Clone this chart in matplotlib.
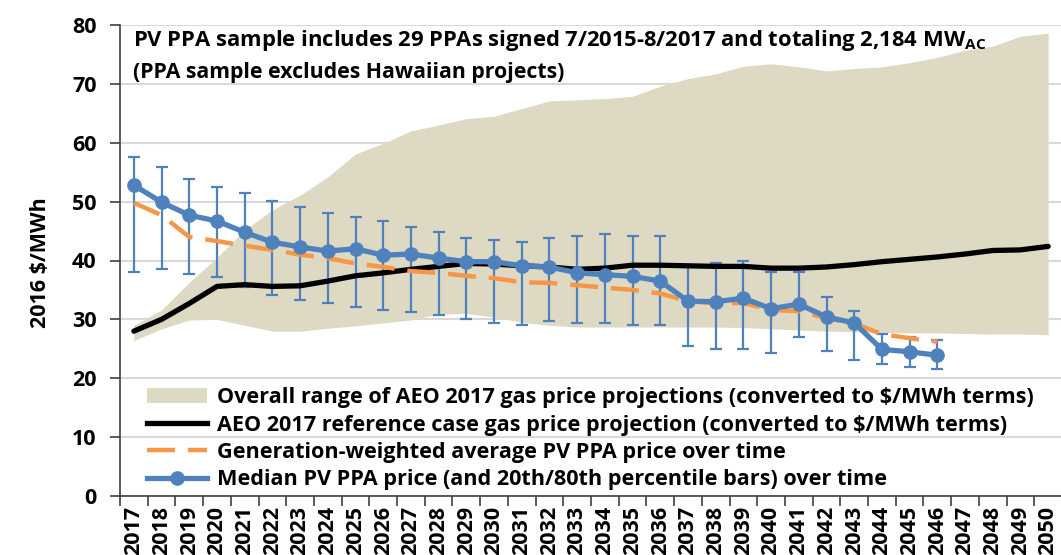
import numpy as np
import matplotlib
matplotlib.use('Agg')
import matplotlib.pyplot as plt
from matplotlib.patches import Patch
from matplotlib.lines import Line2D

plt.rcParams['font.family'] = ['Open Sans', 'DejaVu Sans']
plt.rcParams['font.weight'] = 'bold'
plt.rcParams['mathtext.fontset'] = 'custom'
plt.rcParams['mathtext.rm'] = 'Open Sans:bold'
plt.rcParams['mathtext.bf'] = 'Open Sans:bold'
plt.rcParams['mathtext.it'] = 'Open Sans:bold'

# data ($/MWh, 2016 dollars)
years = list(range(2017, 2051))
ppa_years = list(range(2017, 2047))

gas_high = [29.0, 31.6, 36.3, 40.5, 45.2, 48.6, 51.1, 54.2, 58.1, 59.9, 62.0, 63.0,
            64.1, 64.5, 65.8, 67.1, 67.3, 67.5, 67.9, 69.6, 70.9, 71.7, 73.0, 73.4,
            72.9, 72.2, 72.6, 72.9, 73.6, 74.5, 75.7, 76.4, 78.1, 78.6]
gas_low = [26.4, 28.4, 29.9, 30.0, 29.0, 28.0, 28.0, 28.5, 28.9, 29.4, 29.9, 30.9,
           31.0, 30.4, 29.5, 29.0, 28.7, 28.7, 28.7, 28.7, 28.7, 28.7, 28.6, 28.4,
           28.2, 28.0, 27.9, 27.8, 27.7, 27.7, 27.6, 27.5, 27.5, 27.4]
gas_ref = [28.0, 30.0, 32.7, 35.6, 35.9, 35.6, 35.7, 36.5, 37.4, 37.9, 38.5, 39.0,
           39.5, 39.4, 39.1, 38.9, 38.5, 38.7, 39.2, 39.2, 39.1, 39.0, 39.0, 38.7,
           38.7, 38.9, 39.3, 39.8, 40.2, 40.6, 41.1, 41.7, 41.8, 42.4]

ppa_avg = [49.8, 47.7, 44.0, 43.3, 42.5, 41.8, 41.0, 40.4, 39.5, 38.9, 38.2, 37.9,
           37.4, 37.0, 36.3, 36.2, 35.8, 35.4, 35.0, 34.4, 33.1, 32.7, 32.8, 31.6,
           31.4, 30.2, 29.3, 27.5, 26.8, 26.2]
ppa_median = [52.8, 49.9, 47.7, 46.7, 44.8, 43.1, 42.3, 41.6, 42.0, 40.9, 41.1, 40.4,
              39.8, 39.8, 39.1, 38.9, 37.9, 37.6, 37.3, 36.5, 33.1, 33.0, 33.6, 31.8,
              32.6, 30.4, 29.4, 24.9, 24.5, 23.9]
ppa_p80 = [57.6, 55.9, 53.8, 52.5, 51.4, 50.1, 49.1, 48.1, 47.4, 46.7, 45.7, 44.8,
           43.8, 43.5, 43.1, 43.8, 44.1, 44.5, 44.1, 44.1, 38.9, 39.5, 40.0, 38.1,
           38.1, 33.8, 31.4, 27.5, 27.0, 26.5]
ppa_p20 = [38.0, 38.5, 37.7, 37.2, 35.5, 34.1, 33.3, 32.8, 32.1, 31.6, 31.2, 30.7,
           30.0, 29.4, 29.0, 29.7, 29.4, 29.3, 29.1, 29.0, 25.5, 24.9, 24.9, 24.3,
           27.0, 24.6, 23.1, 22.4, 21.9, 21.5]

blue = '#4F81BD'
orange = '#F79646'
tan = '#DDD9C3'
fs = 15.5

x = np.arange(len(years))
xp = np.arange(len(ppa_years))
med = np.array(ppa_median)
err = [med - np.array(ppa_p20), np.array(ppa_p80) - med]

fig = plt.figure(figsize=(10.61, 5.55), dpi=100)
ax = fig.add_axes([120 / 1061, 59 / 555, 942 / 1061, 471 / 555])

ax.fill_between(x, gas_low, gas_high, color=tan, lw=0, zorder=1)
ax.errorbar(xp, med, yerr=err, fmt='none', ecolor=blue, elinewidth=1.6,
            capsize=4.5, capthick=1.6, zorder=2)
ax.plot(x, gas_ref, color='black', lw=3.8, solid_capstyle='round', zorder=3)
ax.plot(xp, ppa_avg, color=orange, lw=3.2, dashes=(6.3, 2.9), zorder=4)
ax.plot(xp, med, color=blue, lw=3.8, marker='o', ms=9.5, zorder=5)

ax.set_xlim(-0.5, len(years) - 0.5)
ax.set_ylim(0, 80)
ax.set_yticks(range(0, 81, 10))
ax.set_xticks(x)
ax.set_xticklabels([str(y) for y in years], rotation=90, fontsize=fs, fontweight='bold')
ax.set_xticks(np.arange(-0.5, len(years)), minor=True)
ax.tick_params(axis='x', which='major', length=0, pad=7)
ax.tick_params(axis='x', which='minor', length=7, width=1.2, color='#404040')
ax.tick_params(axis='y', length=7, width=1.2, color='#404040', labelsize=fs, pad=10)
for lab in ax.get_yticklabels():
    lab.set_fontweight('bold')

ax.grid(axis='y', color='#D9D9D9', lw=1.5, zorder=0)
ax.set_axisbelow(True)
for s in ['top', 'right']:
    ax.spines[s].set_visible(False)
for s in ['left', 'bottom']:
    ax.spines[s].set_color('#404040')
    ax.spines[s].set_linewidth(1.2)

fig.text(40 / 1061, 1 - 263 / 555, '2016 \\$/MWh', rotation=90, fontsize=fs,
         fontweight='bold', ha='center', va='center')

fig.text(133 / 1061, 1 - 46 / 555,
         'PV PPA sample includes 29 PPAs signed 7/2015-8/2017 and totaling 2,184 MW$_{\\mathrm{AC}}$',
         fontsize=15.8, fontweight='bold', ha='left', va='baseline')
fig.text(133 / 1061, 1 - 78 / 555, '(PPA sample excludes Hawaiian projects)',
         fontsize=15.3, fontweight='bold', ha='left', va='baseline')

handles = [
    Patch(facecolor=tan, edgecolor='none'),
    Line2D([], [], color='black', lw=3.8),
    Line2D([], [], color=orange, lw=3.2, dashes=(6.3, 2.9)),
    Line2D([], [], color=blue, lw=3.8, marker='o', ms=9.5),
]
labels = [
    'Overall range of AEO 2017 gas price projections (converted to \\$/MWh terms)',
    'AEO 2017 reference case gas price projection (converted to \\$/MWh terms)',
    'Generation-weighted average PV PPA price over time',
    'Median PV PPA price (and 20th/80th percentile bars) over time',
]
leg = ax.legend(handles, labels, loc='upper left',
                bbox_to_anchor=(147 / 1061, 1 - 387 / 555),
                bbox_transform=fig.transFigure, frameon=False, borderpad=0,
                borderaxespad=0, handlelength=2.75, handletextpad=0.5,
                labelspacing=0.3, numpoints=1, prop={'size': 15.6, 'weight': 'bold'})

fig.savefig('out.png', dpi=100)
